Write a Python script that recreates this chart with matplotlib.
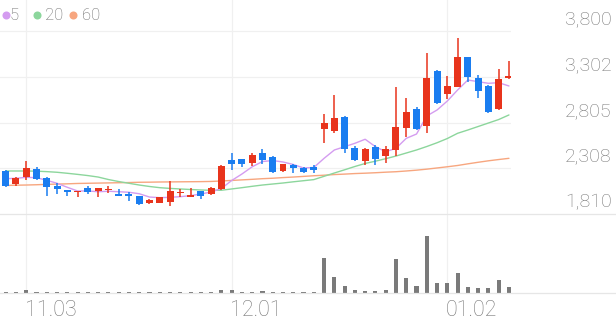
import matplotlib
matplotlib.use('Agg')
import matplotlib.pyplot as plt
from matplotlib.transforms import blended_transform_factory, offset_copy

# daily candles (50 sessions), prices in KRW
opens = [2280, 2140, 2210, 2300, 2205, 2110, 2070, 2045, 2095, 2060,
         2070, 2025, 2025, 2005, 1925, 1935, 1940, 2035, 2000, 2060,
         2025, 2080, 2400, 2405, 2370, 2480, 2430, 2275, 2348, 2315,
         2322, 2737, 2715, 2871, 2535, 2390, 2544, 2439, 2511, 2744,
         2955, 2773, 3373, 3118, 3195, 3519, 3290, 3206, 2952, 3298]
highs = [2290, 2215, 2390, 2320, 2210, 2145, 2075, 2060, 2120, 2095,
         2110, 2080, 2055, 2010, 1970, 1995, 2170, 2085, 2090, 2065,
         2105, 2340, 2470, 2410, 2475, 2520, 2440, 2360, 2358, 2320,
         2340, 2895, 3113, 2879, 2552, 2526, 2557, 2551, 3198, 3075,
         2977, 3562, 3380, 3315, 3726, 3522, 3326, 3217, 3388, 3478]
lows = [2105, 2120, 2180, 2180, 2005, 2030, 2005, 1995, 2025, 2000,
        2035, 2008, 1955, 1910, 1915, 1925, 1895, 1995, 1998, 1975,
        2015, 2075, 2295, 2325, 2330, 2350, 2255, 2268, 2262, 2262,
        2257, 2588, 2688, 2472, 2388, 2344, 2341, 2366, 2442, 2650,
        2726, 2690, 3010, 3064, 3190, 3253, 3072, 2908, 2944, 3279]
closes = [2115, 2205, 2315, 2195, 2100, 2085, 2045, 2055, 2045, 2090,
          2080, 2010, 2005, 1920, 1965, 1990, 2060, 2045, 2012, 2005,
          2095, 2335, 2355, 2350, 2450, 2395, 2265, 2350, 2312, 2268,
          2290, 2799, 2860, 2519, 2399, 2519, 2413, 2524, 2755, 2925,
          2737, 3290, 3024, 3206, 3519, 3304, 3153, 2926, 3279, 3318]
volumes = [16000, 16000, 50000, 20000, 18000, 14000, 14000, 14000, 14000, 14000,
           14000, 14000, 14000, 14000, 14000, 14000, 24000, 14000, 14000, 14000,
           18000, 52000, 46000, 16000, 24000, 30000, 20000, 16000, 14000, 14000,
           18000, 686000, 306000, 134000, 54000, 40000, 40000, 60000, 674000, 286000,
           134000, 1140000, 186000, 200000, 400000, 120000, 86000, 86000, 254000, 120000]

# moving averages as drawn on the chart
ma5 = [2195, 2199, 2210, 2206, 2177, 2145, 2101, 2061, 2061, 2053,
       2058, 2053, 2047, 2031, 1995, 1988, 1992, 1999, 2010, 2028,
       2050, 2088, 2175, 2246, 2325, 2382, 2393, 2377, 2350, 2312,
       2317, 2417, 2508, 2544, 2581, 2625, 2544, 2489, 2526, 2635,
       2682, 2879, 2944, 3042, 3162, 3271, 3253, 3235, 3242, 3206]
ma20 = [2279, 2279, 2279, 2277, 2272, 2265, 2254, 2242, 2229, 2213,
        2186, 2164, 2145, 2126, 2110, 2097, 2089, 2083, 2077, 2072,
        2068, 2069, 2083, 2097, 2112, 2126, 2137, 2148, 2161, 2173,
        2185, 2221, 2257, 2292, 2328, 2361, 2386, 2413, 2442, 2475,
        2508, 2546, 2587, 2633, 2690, 2726, 2764, 2802, 2840, 2890]
ma60 = [2121, 2124, 2126, 2129, 2133, 2136, 2139, 2143, 2145, 2147,
        2149, 2151, 2153, 2156, 2157, 2159, 2160, 2161, 2162, 2163,
        2165, 2170, 2176, 2182, 2188, 2195, 2200, 2207, 2213, 2220,
        2227, 2233, 2240, 2245, 2251, 2255, 2260, 2266, 2271, 2279,
        2288, 2299, 2312, 2325, 2339, 2357, 2374, 2390, 2404, 2417]

y_ticks = [1810, 2308, 2805, 3302, 3800]
date_pos = [2, 22, 43]
date_labels = ['11.03', '12.01', '01.02']
ma_names = ['5', '20', '60']

RED = '#e8341c'
BLUE = '#1a7df0'
MA_COLORS = ['#d49cf0', '#8cd69c', '#f7a67f']
GRID = '#f0f0f0'
TEXT = '#777777'

plt.rcParams['font.family'] = ['Roboto', 'DejaVu Sans']

W, H = 616, 321
fig = plt.figure(figsize=(W / 100, H / 100), dpi=100)
xlim = (-0.555, 49.2)

ax = fig.add_axes([0, (H - 214) / H, 511 / W, 214 / H])
axv = fig.add_axes([0, (H - 292.7) / H, 511 / W, 77.7 / H])
for a in (ax, axv):
    a.set_xlim(*xlim)
    a.axis('off')
    for p in date_pos:
        a.axvline(p, color=GRID, lw=0.9, zorder=0)

ax.set_ylim(1810, 1810 + 214 * 10.904)
axv.set_ylim(0, max(volumes) * 77.7 / 57)

for t in y_ticks[1:]:
    ax.axhline(t, color=GRID, lw=0.9, zorder=0)

# candles
x = list(range(len(opens)))
cols = [RED if c >= o else BLUE for o, c in zip(opens, closes)]
ax.vlines(x, lows, highs, colors=cols, lw=1.1, zorder=3)
bottoms = [min(o, c) for o, c in zip(opens, closes)]
heights = [max(abs(c - o), 12) for o, c in zip(opens, closes)]
ax.bar(x, heights, bottom=bottoms, width=0.68, color=cols, zorder=4)

for vals, col in zip([ma60, ma20, ma5], MA_COLORS[::-1]):
    ax.plot(x, vals, color=col, lw=1.0, zorder=2, solid_capstyle='round')

axv.bar(x, volumes, width=0.4, color='#7a7a7a', zorder=3)

# separators
fig.add_artist(plt.Line2D([0, 1], [(H - 214) / H] * 2, color='#e6e6e6', lw=0.9))
fig.add_artist(plt.Line2D([0, 1], [(H - 293) / H] * 2, color='#e6e6e6', lw=0.9))

# price labels on the right
tr = blended_transform_factory(fig.transFigure, ax.transData)
for t in y_ticks:
    ax.annotate(f'{t:,}', xy=(612 / W, t), xycoords=tr, xytext=(0, 5),
                textcoords='offset points', ha='right', va='baseline',
                fontsize=14, fontweight='light', color=TEXT,
                annotation_clip=False)

# date labels
trd = offset_copy(blended_transform_factory(axv.transData, fig.transFigure),
                  fig=fig, x=-1.5, y=0, units='dots')
for p, lab in zip(date_pos, date_labels):
    axv.text(p, (H - 316) / H, lab, transform=trd, ha='left', va='baseline',
             fontsize=15.5, fontweight='light', color=TEXT)

# legend
dot_x = [5.5, 36.7, 73]
txt_x = [10, 45.5, 82]
for px, tx, name, col in zip(dot_x, txt_x, ma_names, MA_COLORS):
    fig.add_artist(plt.Line2D([px / W], [(H - 15) / H], marker='o', ms=5.8,
                              color=col, mec='none', lw=0))
    fig.text(tx / W, (H - 15.5) / H, name, ha='left', va='center',
             fontsize=12, fontweight='light', color='#666666')

fig.savefig('out.png', dpi=100)
